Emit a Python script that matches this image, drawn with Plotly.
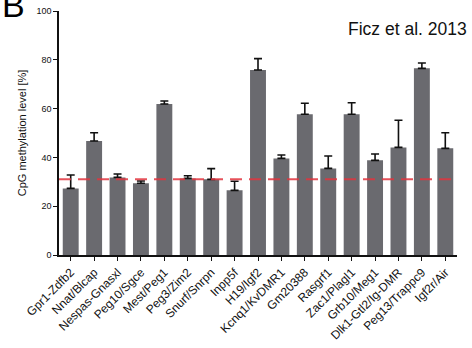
import plotly.graph_objects as go

# Imprinted control regions and their mean CpG methylation (%) with SD
regions = ["Gpr1-Zdfb2", "Nnat/Blcap", "Nespas-Gnasxl", "Peg10/Sgce", "Mest/Peg1",
           "Peg3/Zim2", "Snurf/Snrpn", "Inpp5f", "H19/Igf2", "Kcnq1/KvDMR1",
           "Gm20388", "Rasgrf1", "Zac1/Plagl1", "Grb10/Meg1", "Dlk1-Gtl2/Ig-DMR",
           "Peg13/Trappc9", "Igf2r/Air"]
methylation = [27.3, 46.7, 31.8, 29.4, 61.9, 31.4, 31.0, 26.5, 75.8, 39.6,
               57.7, 35.5, 57.7, 38.8, 44.1, 76.5, 43.7]
sd = [5.5, 3.4, 1.4, 0.9, 1.2, 1.1, 4.4, 3.7, 4.7, 1.4,
      4.5, 5.1, 4.7, 2.6, 11.1, 2.2, 6.4]
reference_level = 31
y_ticks = [0, 20, 40, 60, 80, 100]

font_family = "Liberation Sans, Arial, Helvetica, sans-serif"

fig = go.Figure(go.Bar(
    x=regions,
    y=methylation,
    width=0.68,
    marker=dict(color="#6a6a6f", line=dict(width=0)),
    error_y=dict(type="data", symmetric=False, array=sd,
                 arrayminus=[0] * len(sd),
                 color="#111111", thickness=1.6, width=4),
))

fig.add_shape(type="line", xref="paper", yref="y", x0=0, x1=1,
              y0=reference_level, y1=reference_level,
              line=dict(color="rgba(226,52,62,0.85)", width=2, dash="12px,7px"),
              layer="above")

fig.add_annotation(text="B", xref="paper", yref="paper", x=-0.148, y=1.111,
                   xanchor="left", yanchor="top", showarrow=False,
                   font=dict(size=34, color="#000000", family=font_family))
fig.add_annotation(text="Ficz et al. 2013", xref="paper", yref="paper",
                   x=1.03, y=0.926, xanchor="right", yanchor="middle",
                   showarrow=False,
                   font=dict(size=17.5, color="#111111", family=font_family))

fig.update_layout(
    width=472, height=348,
    margin=dict(l=59, r=15, t=11, b=93),
    paper_bgcolor="white", plot_bgcolor="white",
    showlegend=False,
    font=dict(family=font_family, color="#111111"),
    xaxis=dict(
        range=[-0.5, len(regions) - 0.5],
        tickangle=-45, tickfont=dict(size=12), automargin=False,
        ticks="outside", ticklen=4, tickwidth=1, tickcolor="#111111",
        showline=True, linecolor="#111111", linewidth=1.5,
        showgrid=False, zeroline=False,
    ),
    yaxis=dict(
        range=[0, 100], tickvals=y_ticks, tickfont=dict(size=9),
        automargin=False,
        ticks="outside", ticklen=4, tickwidth=1, tickcolor="#111111",
        showline=True, linecolor="#111111", linewidth=1.5,
        showgrid=False, zeroline=False,
        title=dict(text="CpG methylation level [%]", font=dict(size=11),
                   standoff=8),
    ),
)

fig.write_html("out.html")
